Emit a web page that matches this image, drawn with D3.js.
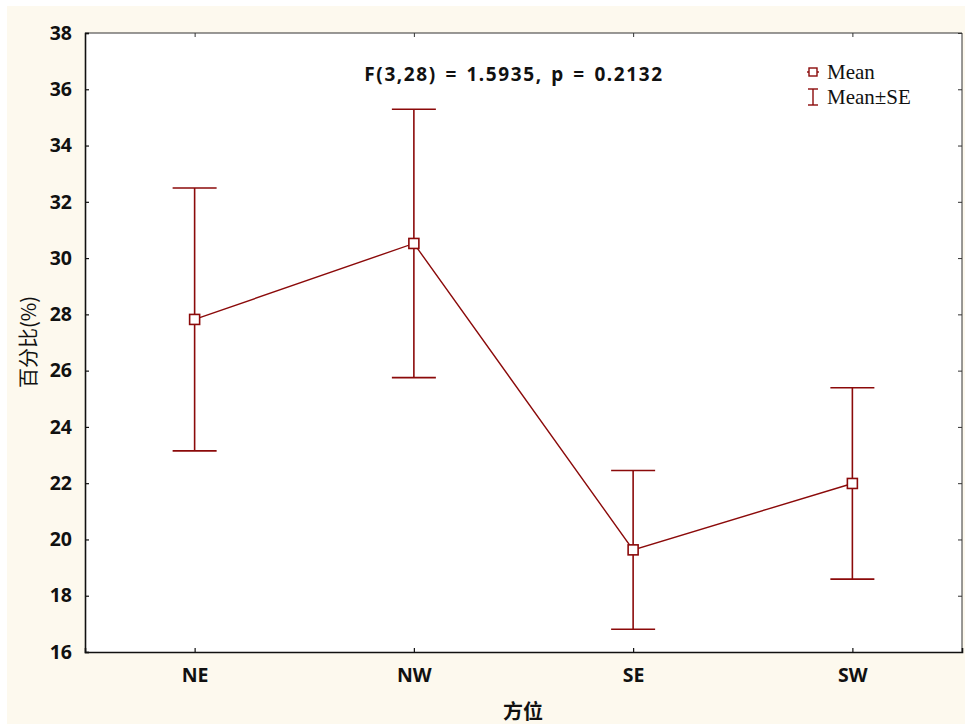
<!DOCTYPE html>
<html>
<head>
<meta charset="utf-8">
<script src="https://cdn.jsdelivr.net/npm/d3@7"></script>
<style>
  html, body { margin: 0; padding: 0; background: #ffffff; }
  svg { display: block; }
</style>
</head>
<body>
<svg id="chart" width="965" height="724"></svg>
<script>
// Mean and standard error of the percentage for each aspect
const categories = ["NE", "NW", "SE", "SW"];
const means = [27.82, 30.52, 19.63, 21.99];
const stdErrors = [4.67, 4.77, 2.82, 3.40];
const yTicks = [16, 18, 20, 22, 24, 26, 28, 30, 32, 34, 36, 38];
const statLabel = "F(3,28) = 1.5935, p = 0.2132";
const legendLabels = ["Mean", "Mean±SE"];
const xTitle = "方位";
const yTitle = "百分比(%)";

const W = 965, H = 724;
const margin = { left: 85, right: 3, top: 33, bottom: 72 };
const innerW = W - margin.left - margin.right;
const innerH = H - margin.top - margin.bottom;
const red = "#8b0a0a";
const tickFont = "'Noto Sans', 'Open Sans', sans-serif";

const svg = d3.select("#chart");

// cream page background
svg.append("rect").attr("x", 7).attr("y", 6).attr("width", W - 7).attr("height", H - 6)
  .attr("fill", "#fdf9ee");

const g = svg.append("g").attr("transform", `translate(${margin.left},${margin.top})`);

// white plotting area
g.append("rect").attr("width", innerW).attr("height", innerH).attr("fill", "#ffffff");

const x = d3.scalePoint().domain(categories).range([0, innerW]).padding(0.5);
const y = d3.scaleLinear().domain([16, 38]).range([innerH, 0]);

// frame: heavier left/bottom axes, lighter top/right
g.append("line").attr("x1", 0).attr("x2", innerW).attr("y1", 0).attr("y2", 0)
  .attr("stroke", "#333").attr("stroke-width", 1);
g.append("line").attr("x1", innerW).attr("x2", innerW).attr("y1", 0).attr("y2", innerH)
  .attr("stroke", "#333").attr("stroke-width", 1);

// left axis
const yAxis = g.append("g").call(
  d3.axisLeft(y).tickValues(yTicks).tickSize(-4).tickPadding(13).tickFormat(d3.format("d"))
);
yAxis.select(".domain").attr("stroke", "#111").attr("stroke-width", 1.6);
yAxis.selectAll(".tick line").attr("stroke", "#111").attr("stroke-width", 1.2);
yAxis.selectAll(".tick text").attr("font-family", tickFont).attr("font-weight", "bold")
  .attr("font-size", 19.5).attr("fill", "#111");

// right mirror ticks
g.append("g").attr("transform", `translate(${innerW},0)`)
  .call(d3.axisRight(y).tickValues(yTicks).tickSize(-4).tickFormat(""))
  .call(a => a.select(".domain").remove())
  .selectAll(".tick line").attr("stroke", "#333");

// bottom axis
const xAxis = g.append("g").attr("transform", `translate(0,${innerH})`).call(
  d3.axisBottom(x).tickSize(-4).tickPadding(16)
);
xAxis.select(".domain").attr("stroke", "#111").attr("stroke-width", 1.6);
xAxis.selectAll(".tick line").attr("stroke", "#111").attr("stroke-width", 1.2);
xAxis.selectAll(".tick text").attr("font-family", tickFont).attr("font-weight", "bold")
  .attr("font-size", 19.5).attr("fill", "#111");

// top mirror ticks
g.append("g")
  .call(d3.axisTop(x).tickSize(-4).tickFormat(""))
  .call(a => a.select(".domain").remove())
  .selectAll(".tick line").attr("stroke", "#333");

const rows = categories.map((c, i) => ({ c, m: means[i], se: stdErrors[i] }));
const capHalf = 22;

// error bars
const eb = g.append("g").attr("stroke", red).attr("stroke-width", 1.6).attr("fill", "none");
rows.forEach(d => {
  const cx = x(d.c);
  eb.append("line").attr("x1", cx).attr("x2", cx)
    .attr("y1", y(d.m + d.se)).attr("y2", y(d.m - d.se));
  eb.append("line").attr("x1", cx - capHalf).attr("x2", cx + capHalf)
    .attr("y1", y(d.m + d.se)).attr("y2", y(d.m + d.se));
  eb.append("line").attr("x1", cx - capHalf).attr("x2", cx + capHalf)
    .attr("y1", y(d.m - d.se)).attr("y2", y(d.m - d.se));
});

// mean line
g.append("path").datum(rows)
  .attr("d", d3.line().x(d => x(d.c)).y(d => y(d.m)))
  .attr("fill", "none").attr("stroke", red).attr("stroke-width", 1.4);

// mean markers
const sq = 10;
g.selectAll("rect.mean").data(rows).enter().append("rect")
  .attr("class", "mean")
  .attr("x", d => x(d.c) - sq / 2).attr("y", d => y(d.m) - sq / 2)
  .attr("width", sq).attr("height", sq)
  .attr("fill", "#ffffff").attr("stroke", red).attr("stroke-width", 1.6);

// statistic annotation
g.append("text").attr("x", 429).attr("y", 48).attr("text-anchor", "middle")
  .attr("font-family", tickFont).attr("font-weight", "bold").attr("font-size", 19)
  .attr("letter-spacing", 1.6).attr("word-spacing", 2)
  .attr("fill", "#111").text(statLabel);

// legend
const lg = svg.append("g").attr("transform", "translate(813,72)");
lg.append("line").attr("x1", -6).attr("x2", 6).attr("y1", 0).attr("y2", 0)
  .attr("stroke", red).attr("stroke-width", 1.4);
lg.append("rect").attr("x", -4).attr("y", -4).attr("width", 8).attr("height", 8)
  .attr("fill", "#fff").attr("stroke", red).attr("stroke-width", 1.4);
lg.append("text").attr("x", 14).attr("y", 7).text(legendLabels[0]);
const ly = 25;
lg.append("line").attr("x1", 0).attr("x2", 0).attr("y1", ly - 8).attr("y2", ly + 8)
  .attr("stroke", red).attr("stroke-width", 1.4);
lg.append("line").attr("x1", -5).attr("x2", 5).attr("y1", ly - 8).attr("y2", ly - 8)
  .attr("stroke", red).attr("stroke-width", 1.4);
lg.append("line").attr("x1", -5).attr("x2", 5).attr("y1", ly + 8).attr("y2", ly + 8)
  .attr("stroke", red).attr("stroke-width", 1.4);
lg.append("text").attr("x", 14).attr("y", ly + 7).text(legendLabels[1]);
lg.selectAll("text").attr("font-family", "'Liberation Serif', 'DejaVu Serif', serif")
  .attr("font-size", 21).attr("fill", "#111");

// axis titles
svg.append("text").attr("x", 523).attr("y", 719)
  .attr("text-anchor", "middle").attr("font-family", "'Noto Sans CJK SC', sans-serif")
  .attr("font-weight", "bold").attr("font-size", 20).attr("fill", "#111").text(xTitle);
svg.append("text").attr("transform", "translate(36,342) rotate(-90)")
  .attr("text-anchor", "middle").attr("font-family", "'Noto Sans CJK SC', sans-serif")
  .attr("font-size", 20).attr("fill", "#111").text(yTitle);
</script>
</body>
</html>
